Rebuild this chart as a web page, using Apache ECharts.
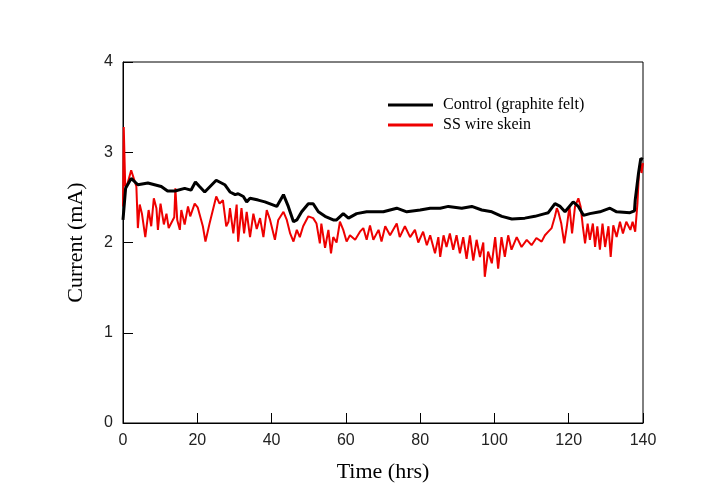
<!DOCTYPE html>
<html>
<head>
<meta charset="utf-8">
<script src="https://cdn.jsdelivr.net/npm/echarts@6/dist/echarts.min.js"></script>
<style>html,body{margin:0;padding:0;background:#fff}#c{width:716px;height:489px}</style>
</head>
<body>
<div id="c"></div>
<script>
var seriesNames = ['Control (graphite felt)', 'SS wire skein'];
var xTicks = [0, 20, 40, 60, 80, 100, 120, 140];
var yTicks = [0, 1, 2, 3, 4];

var controlTime = [0,0.7,2.2,4,6.7,10.3,12,14,16.6,18.3,19.5,20.6,22,25.1,27.4,28.8,30.2,31,32.4,33.3,34.2,36.4,38.2,41.4,43.2,44.5,45.9,46.8,48.1,49.9,51.2,52.6,54.4,56.6,57.5,59.3,60.7,62.9,65.6,67.9,70.1,73.7,76.4,80,82.7,85.4,87.6,91.2,93.9,96.6,99.3,102,104.7,108.2,110.9,113.6,114.5,116.3,117.7,119,121.2,122.6,124,125.7,128.4,131.1,132.9,136.5,137.7,137.9,138.8,139.4,140];
var controlCurrent = [2.25,2.60,2.71,2.64,2.66,2.62,2.57,2.57,2.60,2.58,2.67,2.62,2.56,2.69,2.64,2.56,2.53,2.54,2.51,2.45,2.49,2.47,2.45,2.40,2.53,2.40,2.23,2.25,2.34,2.43,2.43,2.34,2.29,2.25,2.25,2.32,2.27,2.32,2.34,2.34,2.34,2.38,2.34,2.36,2.38,2.38,2.40,2.38,2.40,2.36,2.34,2.29,2.26,2.27,2.29,2.32,2.33,2.43,2.40,2.34,2.45,2.40,2.30,2.32,2.34,2.38,2.34,2.33,2.35,2.47,2.77,2.93,2.92];

var ssTime = [0,0.2,0.6,1.2,2.2,2.7,3.6,4,4.5,5.1,6,6.9,7.6,8.3,9,9.4,10.1,11,11.7,12.3,13.8,14.1,14.6,15.3,15.7,16.6,17.5,18.1,19.3,20.1,21.5,22.2,23.3,25.1,26,26.9,27.8,28.4,28.8,29.7,30.6,31,31.9,32.6,33.3,34.2,35.1,36,36.9,37.8,38.7,39.6,40.9,41.8,43.2,44.1,45,45.9,46.8,47.6,48.5,49.9,51.2,52.1,53,53.4,54.4,55.3,56,56.6,57.5,58.4,59.3,60.2,61.1,62.5,63.8,64.7,65.6,66.5,67.4,68.8,69.6,70.6,71.9,73.7,74.5,75.9,77.3,78.6,79.5,80.8,81.8,82.7,84,84.9,85.4,86.3,87.1,88,88.9,89.8,90.7,91.6,92.5,93.4,94.3,95.2,96.1,97,97.4,98.3,99.3,100.2,101,101.9,102.8,103.7,104.6,106,107.3,108.7,110,111.3,112.7,113.6,114.5,115.4,116.3,116.8,117.2,118,118.8,119.5,120.2,120.9,121.7,122.6,123.2,123.8,124.4,125.1,125.7,126.5,127.1,127.7,128.4,129.1,129.8,130.7,131.3,132,132.9,133.8,134.6,135.5,136.6,137.2,137.9,138.5,138.9,139.3,139.6,140];
var ssCurrent = [2.40,3.28,2.62,2.65,2.80,2.78,2.62,2.16,2.42,2.32,2.06,2.36,2.18,2.49,2.38,2.14,2.43,2.20,2.32,2.16,2.28,2.60,2.25,2.14,2.36,2.20,2.40,2.29,2.43,2.39,2.18,2.01,2.21,2.51,2.43,2.47,2.18,2.23,2.38,2.10,2.42,2.01,2.38,2.10,2.34,2.06,2.32,2.15,2.27,2.06,2.36,2.25,2.03,2.25,2.34,2.25,2.10,2.01,2.14,2.06,2.18,2.29,2.27,2.21,1.99,2.21,1.94,2.14,1.88,2.06,2.00,2.23,2.14,2.01,2.08,2.03,2.12,2.16,2.03,2.19,2.03,2.14,2.01,2.18,2.08,2.21,2.06,2.18,2.06,2.14,2.00,2.12,1.97,2.08,1.88,2.06,1.84,2.08,1.95,2.10,1.92,2.08,1.88,2.06,1.82,2.08,1.80,2.03,1.84,2.00,1.62,1.90,1.77,2.06,1.71,2.06,1.84,2.08,1.92,2.06,1.95,2.03,1.97,2.05,2.01,2.08,2.12,2.16,2.29,2.38,2.34,2.21,1.99,2.18,2.40,2.10,2.40,2.49,2.40,2.18,1.99,2.21,2.03,2.21,1.95,2.18,1.92,2.21,1.95,2.18,1.84,2.19,2.06,2.23,2.10,2.23,2.14,2.23,2.12,2.43,2.77,2.90,2.77,2.88,2.69];

function zip(a, b) { return a.map(function (v, i) { return [v, b[i]]; }); }

var chart = echarts.init(document.getElementById('c'));
var tickFont = { fontFamily: 'Liberation Sans', fontSize: 16, color: '#222' };
chart.setOption({
  animation: false,
  backgroundColor: '#fff',
  grid: { left: 123, right: 73, top: 62, bottom: 66, show: true, borderColor: '#000', borderWidth: 1, backgroundColor: 'transparent' },
  legend: {
    orient: 'vertical', left: 388, top: 97, padding: 0, itemWidth: 45, itemHeight: 3, itemGap: 4,
    icon: 'rect',
    textStyle: { fontFamily: 'Liberation Serif', fontSize: 16, color: '#000', padding: [0, 0, 0, 5] },
    data: seriesNames
  },
  xAxis: {
    type: 'value', min: 0, max: 140, interval: 20,
    name: 'Time (hrs)', nameLocation: 'middle', nameGap: 38,
    nameTextStyle: { fontFamily: 'Liberation Serif', fontSize: 22, color: '#000' },
    axisLine: { show: true, lineStyle: { color: '#000', width: 1 } },
    axisTick: { show: true, inside: true, length: 10, lineStyle: { color: '#000' } },
    axisLabel: Object.assign({ margin: 10, formatter: function (v) { return xTicks.indexOf(v) >= 0 ? String(v) : ''; } }, tickFont),
    splitLine: { show: false }
  },
  yAxis: {
    type: 'value', min: 0, max: 4, interval: 1,
    name: 'Current (mA)', nameLocation: 'middle', nameGap: 36, nameRotate: 90,
    nameTextStyle: { fontFamily: 'Liberation Serif', fontSize: 22, color: '#000' },
    axisLine: { show: true, lineStyle: { color: '#000', width: 1 } },
    axisTick: { show: true, inside: true, length: 10, lineStyle: { color: '#000' } },
    axisLabel: Object.assign({ margin: 10, formatter: function (v) { return yTicks.indexOf(v) >= 0 ? String(v) : ''; } }, tickFont),
    splitLine: { show: false }
  },
  series: [
    { name: seriesNames[0], type: 'line', data: zip(controlTime, controlCurrent), showSymbol: false, symbol: 'none',
      lineStyle: { color: '#000', width: 3 }, itemStyle: { color: '#000' }, z: 3 },
    { name: seriesNames[1], type: 'line', data: zip(ssTime, ssCurrent), showSymbol: false, symbol: 'none',
      lineStyle: { color: '#ee0000', width: 2 }, itemStyle: { color: '#ee0000' }, z: 2 }
  ]
});
</script>
</body>
</html>
